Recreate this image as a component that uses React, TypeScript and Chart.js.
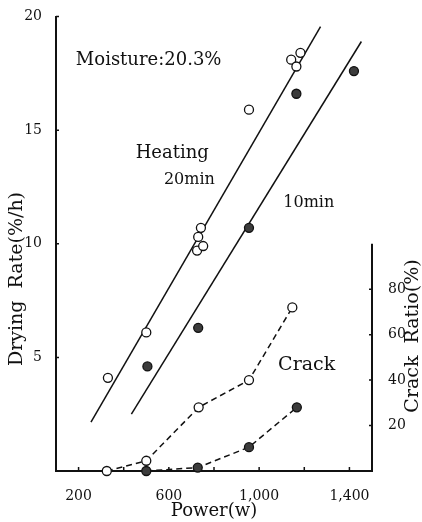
import React, { useEffect, useRef } from "react";
import { Chart, registerables } from "chart.js";
Chart.register(...registerables);

// ---- data ----
const power20 = [330, 500, 725, 730, 742, 752, 955, 1142, 1165, 1183];
const rate20 = [4.1, 6.1, 9.7, 10.3, 10.7, 9.9, 15.9, 18.1, 17.8, 18.4];
const power10 = [505, 730, 955, 1165, 1420];
const rate10 = [4.6, 6.3, 10.7, 16.6, 17.6];
const fit20Power = [255, 1272];
const fit20Rate = [2.15, 19.55];
const fit10Power = [434, 1453];
const fit10Rate = [2.5, 18.9];
const crackPower20 = [325, 500, 732, 955, 1147];
const crack20 = [0, 4.5, 28, 40, 72];
const crackPower10 = [500, 728, 955, 1167];
const crack10 = [0, 1.5, 10.5, 28];

const xTicks = [200, 400, 600, 800, 1000, 1200, 1400];
const xLabelled = [200, 600, 1000, 1400];
const yTicks = [5, 10, 15, 20];
const y2Ticks = [20, 40, 60, 80];

const xTitle = "Power(w)";
const yTitle = "Drying  Rate(%/h)";
const y2Title = "Crack  Ratio(%)";

const notes = [
  { text: "Moisture:20.3%", x: 188, y: 18.05, size: 18 },
  { text: "Heating", x: 453, y: 13.98, size: 18 },
  { text: "20min", x: 578, y: 12.8, size: 16 },
  { text: "10min", x: 1107, y: 11.82, size: 16 },
  { text: "Crack", x: 1084, y: 4.66, size: 19 },
];

const FONT = "'DejaVu Serif', serif";
const INK = "#111";

const pts = (xs: number[], ys: number[]) => xs.map((x, i) => ({ x, y: ys[i] }));

export default function App() {
  const ref = useRef<HTMLCanvasElement>(null);
  useEffect(() => {
    document.body.style.margin = "0";
    const canvas = ref.current!;
    const deco = {
      id: "deco",
      afterDraw(chart: any) {
        const c = chart.ctx;
        const xs = chart.scales.x;
        const ys = chart.scales.y;
        const y2 = chart.scales.y2;
        const a = chart.chartArea;
        c.save();
        c.strokeStyle = INK;
        c.lineWidth = 1.5;
        // inward tick marks
        c.beginPath();
        xTicks.forEach((v) => {
          const px = xs.getPixelForValue(v);
          c.moveTo(px, a.bottom);
          c.lineTo(px, a.bottom - 4);
        });
        yTicks.forEach((v) => {
          const py = ys.getPixelForValue(v);
          c.moveTo(a.left, py);
          c.lineTo(a.left + 3, py);
        });
        y2Ticks.forEach((v) => {
          const py = y2.getPixelForValue(v);
          c.moveTo(a.right, py);
          c.lineTo(a.right - 3, py);
        });
        c.stroke();
        // right axis line (0..100 %)
        c.lineWidth = 2;
        c.beginPath();
        c.moveTo(a.right, y2.getPixelForValue(0) + 1);
        c.lineTo(a.right, y2.getPixelForValue(100));
        c.stroke();
        // annotations
        c.fillStyle = INK;
        c.textBaseline = "middle";
        c.textAlign = "left";
        notes.forEach((n) => {
          c.font = `${n.size}px ${FONT}`;
          c.fillText(n.text, xs.getPixelForValue(n.x), ys.getPixelForValue(n.y));
        });
        // titles
        c.textAlign = "center";
        c.font = `18px ${FONT}`;
        c.fillText(xTitle, (a.left + a.right) / 2, 511);
        c.save();
        c.translate(17, 279);
        c.rotate(-Math.PI / 2);
        c.font = `19px ${FONT}`;
        c.fillText(yTitle, 0, 0);
        c.restore();
        c.save();
        c.translate(413, 336);
        c.rotate(-Math.PI / 2);
        c.font = `19px ${FONT}`;
        c.fillText(y2Title, 0, 0);
        c.restore();
        c.restore();
      },
    };

    const openPt = {
      pointRadius: 4.5,
      pointBackgroundColor: "#fff",
      pointBorderColor: INK,
      pointBorderWidth: 1.3,
    };
    const fillPt = {
      pointRadius: 4.5,
      pointBackgroundColor: "#3c3c3c",
      pointBorderColor: INK,
      pointBorderWidth: 1.3,
    };

    const chart = new Chart(canvas, {
      type: "scatter",
      data: {
        datasets: [
          { label: "20min", data: pts(power20, rate20), showLine: false, clip: false, ...openPt } as any,
          { label: "10min", data: pts(power10, rate10), showLine: false, clip: false, ...fillPt } as any,
          { label: "crack20", data: pts(crackPower20, crack20), yAxisID: "y2", showLine: true, borderColor: INK, borderWidth: 1.5, borderDash: [6, 4], clip: false, ...openPt } as any,
          { label: "crack10", data: pts(crackPower10, crack10), yAxisID: "y2", showLine: true, borderColor: INK, borderWidth: 1.5, borderDash: [6, 4], clip: false, ...fillPt } as any,
          { label: "fit20", data: pts(fit20Power, fit20Rate), showLine: true, pointRadius: 0, borderColor: INK, borderWidth: 1.5 } as any,
          { label: "fit10", data: pts(fit10Power, fit10Rate), showLine: true, pointRadius: 0, borderColor: INK, borderWidth: 1.5 } as any,
        ],
      },
      options: {
        responsive: false,
        animation: false,
        devicePixelRatio: 1,
        layout: { padding: { top: 16.5, left: 0, right: 0, bottom: 0 } },
        plugins: { legend: { display: false }, tooltip: { enabled: false } },
        scales: {
          x: {
            type: "linear",
            position: "bottom",
            min: 100,
            max: 1500,
            grid: { display: false },
            border: { display: true, width: 2, color: INK },
            afterBuildTicks: (s: any) => { s.ticks = xTicks.map((v) => ({ value: v })); },
            afterFit: (s: any) => { s.height = 51; },
            ticks: {
              autoSkip: false,
              maxRotation: 0,
              padding: 9,
              color: INK,
              font: { family: FONT, size: 14 },
              callback: (v: any) => (xLabelled.includes(Number(v)) ? Number(v).toLocaleString("en-US") : ""),
            },
          },
          y: {
            type: "linear",
            position: "left",
            min: 0,
            max: 20,
            grid: { display: false },
            border: { display: true, width: 2, color: INK },
            afterBuildTicks: (s: any) => { s.ticks = yTicks.map((v) => ({ value: v })); },
            afterFit: (s: any) => { s.width = 56; },
            ticks: { padding: 6, color: INK, font: { family: FONT, size: 14 } },
          },
          y2: {
            type: "linear",
            position: "right",
            min: 0,
            max: 200,
            grid: { display: false },
            border: { display: false },
            afterBuildTicks: (s: any) => { s.ticks = y2Ticks.map((v) => ({ value: v })); },
            afterFit: (s: any) => { s.width = 50; },
            ticks: { padding: 8, color: INK, font: { family: FONT, size: 14 } },
          },
        },
      },
      plugins: [deco],
    } as any);
    return () => chart.destroy();
  }, []);
  return (
    <div style={{ width: 422, height: 522 }}>
      <canvas ref={ref} width={422} height={522} style={{ display: "block" }} />
    </div>
  );
}
